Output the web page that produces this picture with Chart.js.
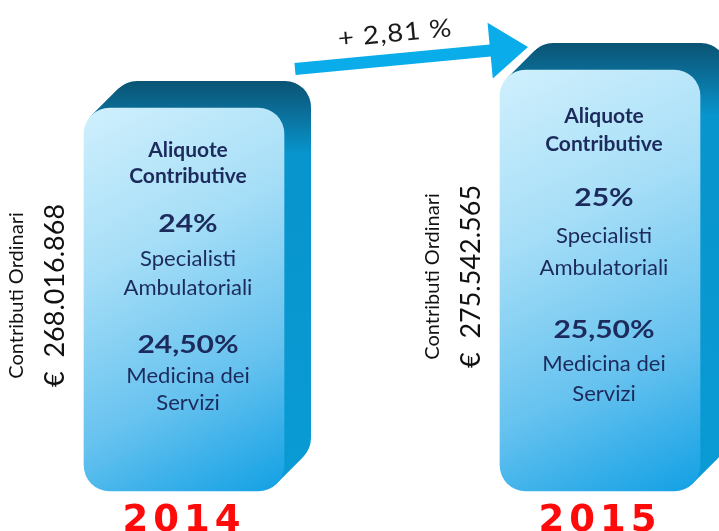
<!DOCTYPE html>
<html><head><meta charset="utf-8">
<script src="https://cdn.jsdelivr.net/npm/chart.js@4/dist/chart.umd.min.js"></script>
<style>html,body{margin:0;padding:0;background:#fff;}#wrap{width:719px;height:531px;}</style>
</head><body><div id="wrap"><canvas id="c" width="719" height="531"></canvas></div>
<script>
// ---- data ----
const years = ['2014', '2015'];
const contributiOrdinari = [268016868, 275542565];
const aliquotaSpecialisti = [24, 25];
const aliquotaMedicina = [24.5, 25.5];
const titleLines = ['Aliquote', 'Contributive'];
const labelSpecialisti = ['Specialisti', 'Ambulatoriali'];
const labelMedicina = ['Medicina dei', 'Servizi'];
const labelContributi = 'Contributi Ordinari';
const axisMin = 192.15e6;
const axisMax = 285.45e6;

// ---- helpers ----
function fmtThousands(n) { return String(n).replace(/\B(?=(\d{3})+(?!\d))/g, '.'); }
function fmtPct(v, dec) { return v.toFixed(dec).replace('.', ',') + '%'; }
const growth = (contributiOrdinari[1] / contributiOrdinari[0] - 1) * 100;
const growthLabel = '+ ' + growth.toFixed(2).replace('.', ',') + ' %';

const NAVY = '#1c2a5c';
const DEPTH = 27;

function txt(ctx, s, x, y, font, color, sx) {
  ctx.save();
  ctx.translate(x, y);
  ctx.scale(sx || 1, 1);
  ctx.font = font;
  ctx.fillStyle = color;
  ctx.textAlign = 'center';
  ctx.textBaseline = 'middle';
  ctx.fillText(s, 0, 0);
  ctx.restore();
}

function frontGrad(c) {
  const ch = c.chart;
  if (!ch.chartArea || c.type !== 'data') return '#9ad7f4';
  const xs = ch.scales.x, ys = ch.scales.y;
  const cx = xs.getPixelForValue(c.dataIndex);
  const top = ys.getPixelForValue(c.raw);
  const bot = ys.getPixelForValue(axisMin);
  const g = ch.ctx.createLinearGradient(cx - 100, top, cx + 100, bot);
  g.addColorStop(0, '#d0f0fd');
  g.addColorStop(0.35, '#a6def7');
  g.addColorStop(0.7, '#66c2ef');
  g.addColorStop(1, '#12a0e4');
  return g;
}

const box3d = {
  id: 'box3d',
  beforeDraw(chart) { chart.ctx.letterSpacing = '5px'; },
  beforeDatasetsDraw(chart) {
    const ctx = chart.ctx;
    ctx.letterSpacing = '0px';
    const meta = chart.getDatasetMeta(0);
    meta.data.forEach((el) => {
      const w = el.width, left = el.x - w / 2, top = el.y, h = el.base - el.y;
      const g = ctx.createLinearGradient(0, top - DEPTH, 0, el.base);
      const f = (y) => Math.min(1, Math.max(0, (y - (top - DEPTH)) / (h + DEPTH)));
      g.addColorStop(0, '#0a5474');
      g.addColorStop(f(top), '#0b6a93');
      g.addColorStop(f(top + 45), '#0894cc');
      g.addColorStop(1, '#0a9bd4');
      ctx.save();
      ctx.fillStyle = g;
      for (let s = DEPTH; s >= 1; s--) {
        ctx.beginPath();
        ctx.roundRect(left + s, top - s, w, h, 26);
        ctx.fill();
      }
      ctx.restore();
    });
  },
  afterDatasetsDraw(chart) {
    const ctx = chart.ctx;
    const meta = chart.getDatasetMeta(0);
    meta.data.forEach((el, i) => {
      const top = el.y, h = el.base - el.y, cx = el.x + 4;
      const left = el.x - el.width / 2;
      const bold = (s) => 'bold ' + s + 'px Lato';
      const reg = (s) => s + 'px Lato';
      txt(ctx, titleLines[0], cx, top + 0.11 * h, bold(20), NAVY, 1.05);
      txt(ctx, titleLines[1], cx, top + 0.178 * h, bold(20), NAVY, 1.05);
      txt(ctx, fmtPct(aliquotaSpecialisti[i], 0), cx, top + 0.304 * h, bold(25), NAVY, 1.2);
      txt(ctx, labelSpecialisti[0], cx, top + 0.396 * h, reg(21), NAVY, 1.05);
      txt(ctx, labelSpecialisti[1], cx, top + 0.47 * h, reg(21), NAVY, 1.05);
      txt(ctx, fmtPct(aliquotaMedicina[i], 2), cx, top + 0.618 * h, bold(25), NAVY, 1.2);
      txt(ctx, labelMedicina[0], cx, top + 0.70 * h, reg(21), NAVY, 1.05);
      txt(ctx, labelMedicina[1], cx, top + 0.77 * h, reg(21), NAVY, 1.05);
      // rotated labels
      const my = top + h / 2 - 4;
      ctx.save();
      ctx.translate(left - 67, my);
      ctx.rotate(-Math.PI / 2);
      txt(ctx, labelContributi, 0, 0, '20px Lato', '#111', 1);
      ctx.restore();
      ctx.save();
      ctx.translate(left - 29, my);
      ctx.rotate(-Math.PI / 2);
      txt(ctx, '€  ' + fmtThousands(contributiOrdinari[i]), 0, 0, '27px Lato', '#111', 1);
      ctx.restore();
    });
    // growth arrow
    const a = meta.data[0], b = meta.data[1];
    const sx0 = a.x + a.width / 2 + 11, sy0 = b.y - 1;
    const tx = b.x - b.width / 2 + 28, ty = b.y - 23;
    const L = Math.hypot(tx - sx0, ty - sy0);
    const dx = (tx - sx0) / L, dy = (ty - sy0) / L;
    const nx = -dy, ny = dx;
    const bx = tx - dx * 38, by = ty - dy * 38;
    const hw = 6, hh = 28;
    ctx.save();
    ctx.fillStyle = '#0aacea';
    ctx.beginPath();
    ctx.moveTo(sx0 + nx * hw, sy0 + ny * hw);
    ctx.lineTo(bx + nx * hw, by + ny * hw);
    ctx.lineTo(bx + nx * hh, by + ny * hh);
    ctx.lineTo(tx, ty);
    ctx.lineTo(bx - nx * hh, by - ny * hh);
    ctx.lineTo(bx - nx * hw, by - ny * hw);
    ctx.lineTo(sx0 - nx * hw, sy0 - ny * hw);
    ctx.closePath();
    ctx.fill();
    const mx = (sx0 + tx) / 2 - dx * 14 - nx * 26, my2 = (sy0 + ty) / 2 - dy * 14 - ny * 26;
    ctx.translate(mx, my2);
    ctx.rotate(Math.atan2(dy, dx));
    ctx.letterSpacing = '1px';
    txt(ctx, growthLabel, 0, 0, '25px Lato', '#1a1a1a', 1.1);
    ctx.restore();
  }
};

new Chart(document.getElementById('c'), {
  type: 'bar',
  data: {
    labels: years,
    datasets: [{
      data: contributiOrdinari,
      base: axisMin,
      backgroundColor: frontGrad,
      borderRadius: 26,
      borderSkipped: false,
      barThickness: 200,
      clip: false
    }]
  },
  options: {
    responsive: false,
    animation: false,
    layout: { padding: { left: 184, right: 119, top: 20, bottom: 0 } },
    plugins: { legend: { display: false }, tooltip: { enabled: false } },
    scales: {
      x: {
        offset: false,
        grid: { display: false },
        border: { display: false },
        afterFit(scale) { scale.height = 40; },
        ticks: {
          color: '#ff0a0a',
          font: { family: 'DejaVu Sans', weight: 'bold', size: 37, lineHeight: 1 },
          padding: 4, maxRotation: 0, autoSkip: false
        }
      },
      y: { display: false, min: axisMin, max: axisMax }
    }
  },
  plugins: [box3d]
});
</script>
</body></html>
